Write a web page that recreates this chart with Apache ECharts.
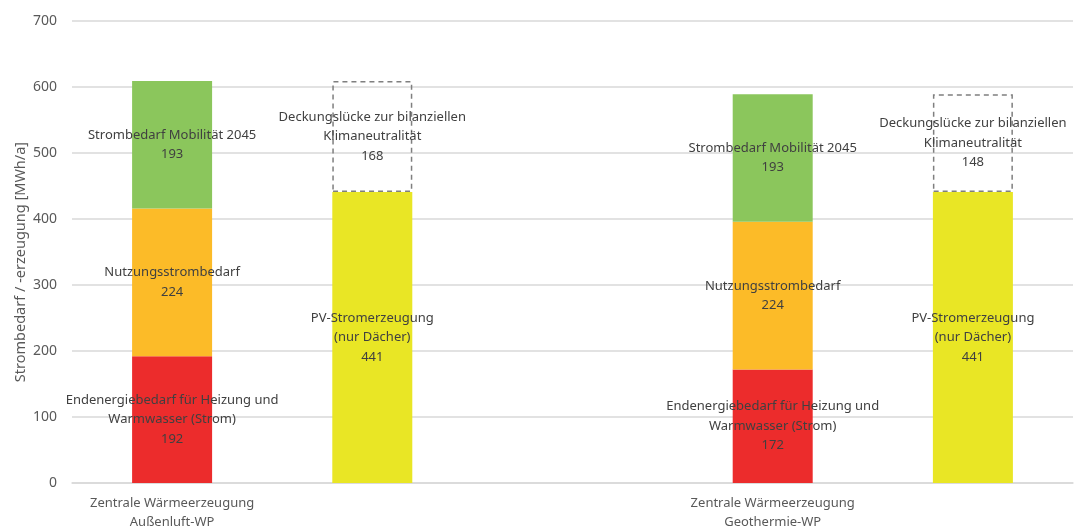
<!DOCTYPE html>
<html>
<head>
<meta charset="utf-8">
<script src="https://cdn.jsdelivr.net/npm/echarts@6/dist/echarts.min.js"></script>
<style>
  html, body { margin: 0; padding: 0; background: #fff; }
  #chart { width: 1074px; height: 527px; }
</style>
</head>
<body>
<div id="chart"></div>
<script>
// Categories: two demand columns, each followed by its PV column, with an empty slot between
const categories = [
  'Zentrale Wärmeerzeugung\nAußenluft-WP',
  '',
  '',
  'Zentrale Wärmeerzeugung\nGeothermie-WP',
  ''
];

// Demand side (MWh/a)
const heating  = [192, null, null, 172, null];
const usage    = [224, null, null, 224, null];
const mobility = [193, null, null, 193, null];

// Supply side (MWh/a)
const pv       = [null, 441, null, null, 441];
const gap      = [null, 168, null, null, 148];

const yTicks = { min: 0, max: 700, interval: 100 };

const FONT = '"Noto Sans", sans-serif';
const TEXT = '#404040';

function seg(name, data, labelText, color, extra) {
  return Object.assign({
    name: name,
    type: 'bar',
    stack: 'total',
    barWidth: 80,
    data: data,
    itemStyle: { color: color },
    label: {
      show: true,
      position: 'inside',
      color: TEXT,
      fontFamily: FONT,
      fontSize: 13,
      lineHeight: 19.5,
      formatter: p => labelText + '\n' + p.value
    },
    emphasis: { disabled: true },
    silent: true
  }, extra || {});
}

const chart = echarts.init(document.getElementById('chart'));
chart.setOption({
  animation: false,
  backgroundColor: '#ffffff',
  grid: { left: 72, right: 1, top: 21, bottom: 44, outerBoundsMode: 'none' },
  xAxis: {
    type: 'category',
    data: categories,
    axisLine: { show: true, lineStyle: { color: '#d9d9d9', width: 1.5 } },
    axisTick: { show: false },
    axisLabel: {
      color: '#595959',
      fontFamily: FONT,
      fontSize: 13,
      lineHeight: 19,
      margin: 11,
      interval: 0
    }
  },
  yAxis: {
    type: 'value',
    min: yTicks.min,
    max: yTicks.max,
    interval: yTicks.interval,
    name: 'Strombedarf / -erzeugung [MWh/a]',
    nameLocation: 'middle',
    nameGap: 44,
    nameMoveOverlap: false,
    nameTextStyle: {
      color: '#595959',
      fontFamily: FONT,
      fontSize: 14.5,
      padding: [0, 20, 0, 0]
    },
    axisLine: { show: false },
    axisTick: { show: false },
    axisLabel: { color: '#595959', fontFamily: FONT, fontSize: 14, margin: 15 },
    splitLine: { lineStyle: { color: '#d9d9d9', width: 1.5 } }
  },
  series: [
    seg('Endenergiebedarf', heating, 'Endenergiebedarf für Heizung und\nWarmwasser (Strom)', '#ec2c2c'),
    seg('Nutzungsstrombedarf', usage, 'Nutzungsstrombedarf', '#fcbb28'),
    seg('Mobilität', mobility, 'Strombedarf Mobilität 2045', '#8bc65c'),
    seg('PV', pv, 'PV-Stromerzeugung\n(nur Dächer)', '#e9e625'),
    seg('Deckungslücke', gap, 'Deckungslücke zur bilanziellen\nKlimaneutralität', 'rgba(0,0,0,0)', {
      itemStyle: {
        color: 'rgba(0,0,0,0)',
        borderColor: '#7f7f7f',
        borderWidth: 1.5,
        borderType: [5, 4]
      }
    })
  ]
});
</script>
</body>
</html>
